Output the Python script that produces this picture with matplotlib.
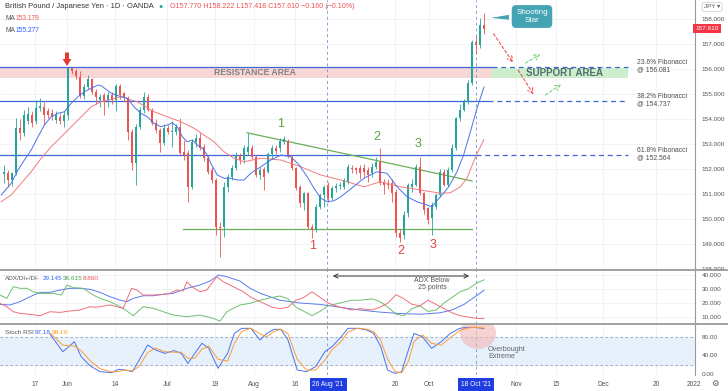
import matplotlib
matplotlib.use("Agg")
import matplotlib.pyplot as plt
import matplotlib.patches as mpatches
import numpy as np
import pandas as pd

plt.rcParams["font.family"] = ["Liberation Sans", "DejaVu Sans"]

# daily candles, GBP/JPY (OANDA), 5 May - 20 Oct 2021
dates = pd.bdate_range("2021-05-05", "2021-10-20")
opens = [151.80, 151.85, 151.56, 151.83, 153.63, 153.45, 153.90, 154.16, 153.90, 154.43,
         154.50, 154.30, 154.25, 153.96, 154.10, 153.93, 154.16, 156.03, 155.93, 155.69,
         154.92, 155.27, 155.59, 155.09, 154.76, 154.96, 154.76, 154.96, 154.76, 155.32,
         155.03, 154.83, 153.49, 152.23, 153.69, 154.36, 154.89, 154.36, 153.83, 153.56,
         153.03, 153.63, 153.50, 153.49, 153.69, 152.70, 152.63, 151.29, 153.09, 153.23,
         152.89, 152.43, 151.96, 151.56, 149.69, 149.69, 151.29, 151.69, 152.03, 152.56,
         152.36, 152.70, 152.84, 152.48, 151.76, 152.00, 151.90, 152.60, 152.85, 152.84,
         153.10, 153.13, 152.49, 152.03, 151.29, 150.63, 151.03, 149.69, 149.59, 150.49,
         150.96, 151.36, 150.83, 151.23, 151.33, 151.29, 151.49, 152.05, 152.06, 152.03,
         152.03, 151.96, 151.83, 152.09, 152.29, 151.49, 151.43, 151.43, 151.09, 149.43,
         149.36, 150.23, 151.29, 151.36, 152.09, 151.03, 150.43, 150.03, 150.49, 150.96,
         151.89, 151.36, 151.96, 152.83, 154.03, 154.36, 154.69, 155.43, 157.09, 156.96,
         157.77]
highs = [152.16, 151.95, 151.90, 154.03, 154.00, 154.36, 154.50, 154.30, 154.76, 154.83,
         154.70, 154.45, 154.40, 154.30, 154.25, 154.30, 156.10, 156.10, 156.00, 155.90,
         155.40, 155.76, 155.65, 155.20, 155.00, 155.05, 155.10, 155.10, 155.40, 155.40,
         155.10, 154.90, 153.60, 153.80, 154.50, 155.09, 155.00, 154.45, 154.00, 153.65,
         153.80, 153.75, 153.90, 153.80, 154.03, 153.16, 152.75, 153.20, 153.40, 153.43,
         153.00, 152.55, 152.10, 151.65, 149.90, 151.50, 151.80, 152.15, 152.70, 152.65,
         152.95, 153.45, 152.95, 152.55, 152.10, 152.10, 152.70, 152.95, 152.95, 153.25,
         153.30, 153.20, 152.55, 152.10, 151.35, 151.10, 151.10, 149.80, 150.60, 151.05,
         151.36, 151.50, 151.30, 151.45, 151.50, 151.65, 152.20, 152.15, 152.10, 152.15,
         152.20, 152.10, 152.25, 152.49, 152.83, 151.60, 151.60, 151.60, 151.20, 149.60,
         150.30, 151.45, 151.60, 152.20, 152.49, 151.10, 150.50, 150.70, 151.05, 152.00,
         152.00, 152.10, 153.00, 154.10, 154.60, 154.80, 155.55, 157.15, 157.30, 158.03,
         158.22]
lows = [151.43, 151.29, 151.30, 151.75, 153.15, 153.30, 153.80, 153.70, 153.80, 154.30,
        153.76, 154.05, 153.95, 153.85, 153.80, 153.70, 153.95, 155.80, 155.60, 154.85,
        154.80, 155.20, 155.00, 154.60, 154.50, 154.16, 154.50, 154.60, 154.30, 154.80,
        154.70, 153.16, 151.96, 151.36, 153.60, 154.25, 154.30, 153.75, 153.45, 152.70,
        152.95, 153.40, 152.90, 153.35, 152.55, 152.36, 150.69, 151.20, 152.90, 152.75,
        152.30, 151.80, 151.45, 149.36, 148.49, 149.30, 151.10, 151.55, 151.95, 152.20,
        152.25, 152.55, 152.40, 151.70, 151.60, 151.16, 151.85, 152.40, 152.60, 152.70,
        153.00, 152.45, 151.95, 151.15, 150.50, 150.36, 149.60, 149.23, 149.50, 150.40,
        150.50, 150.70, 150.75, 151.10, 151.20, 151.20, 151.40, 151.85, 151.80, 151.60,
        151.70, 151.50, 151.70, 152.00, 151.35, 151.00, 151.20, 150.70, 149.30, 149.09,
        149.20, 150.10, 151.10, 151.30, 150.95, 150.20, 149.80, 149.36, 150.40, 150.90,
        151.30, 151.30, 151.90, 152.75, 153.90, 154.30, 154.60, 155.35, 156.60, 156.85,
        157.42]
closes = [151.88, 151.56, 151.83, 153.63, 153.45, 154.16, 154.20, 153.83, 154.43, 154.52,
          154.16, 154.16, 154.10, 154.16, 153.93, 154.16, 156.03, 155.90, 155.72, 154.92,
          155.27, 155.59, 155.09, 154.89, 154.89, 154.69, 154.96, 154.76, 155.32, 154.96,
          154.83, 153.49, 152.23, 153.69, 154.36, 154.89, 154.36, 153.83, 153.56, 153.03,
          153.63, 153.49, 153.52, 153.69, 152.63, 152.56, 151.29, 153.09, 153.23, 152.83,
          152.43, 151.89, 151.56, 149.69, 149.63, 151.29, 151.69, 152.03, 152.56, 152.36,
          152.83, 152.90, 152.48, 151.76, 151.95, 151.70, 152.60, 152.84, 152.72, 153.12,
          153.20, 152.56, 152.03, 151.23, 150.63, 151.03, 149.69, 149.60, 150.49, 150.96,
          151.29, 150.83, 151.23, 151.33, 151.36, 151.56, 152.09, 151.99, 151.96, 151.83,
          151.89, 151.76, 152.09, 152.29, 151.43, 151.36, 151.36, 151.03, 149.43, 149.23,
          150.16, 151.36, 151.40, 152.09, 151.03, 150.36, 149.96, 150.56, 150.96, 151.89,
          151.36, 151.96, 152.83, 154.03, 154.36, 154.69, 155.43, 157.09, 156.96, 157.77,
          157.61]

# moving averages (bar number, price)
ma_fast_x = [0.3, 2.8, 4.5, 6.1, 7.8, 9.5, 11.1, 12.8, 14.5, 16.1, 17.8, 19.5, 21.1, 22.8, 24.5,
             25.3, 27.8, 30.3, 31.8, 33.5, 35.2, 36.8, 38.5, 40.2, 41.8, 43.1, 44.3, 45.6, 46.8,
             48.1, 49.3, 50.6, 51.8, 52.7, 54.3, 56, 57.7, 59.3, 61, 62.7, 65.2, 67.7, 70.2,
             72.7, 74.8, 76.8, 78.5, 80.2, 81.8, 83.5, 85.2, 86.8, 88.9, 91, 94.2, 96.75, 99.25,
             101.75, 104.25, 106.75, 108, 110.1, 112.2, 114.25, 115.9, 117.6, 119.25, 121]
ma_fast = [150.96, 151.43, 151.96, 152.36, 152.76, 153.29, 153.76, 154.09, 154.23, 154.29,
           154.63, 154.89, 155.09, 155.23, 155.36, 155.33, 155.03, 154.89, 154.83, 154.49,
           154.23, 154.09, 153.83, 153.69, 153.76, 153.85, 153.69, 153.29, 153.09, 153.16,
           152.96, 152.83, 152.56, 152.23, 151.76, 151.63, 151.63, 151.56, 151.56, 151.83,
           152.09, 152.36, 152.56, 152.49, 152.16, 151.69, 151.23, 150.83, 150.69, 150.73,
           150.89, 151.09, 151.36, 151.63, 151.89, 151.83, 151.29, 150.89, 150.69, 150.56,
           150.49, 150.89, 151.29, 151.89, 152.56, 153.49, 154.43, 155.28]
ma_slow_x = [0.3, 2.8, 5.3, 7.8, 10.3, 12.8, 15.3, 17.8, 20.3, 22.8, 25.3, 27.8, 30.3, 34.3,
             38.5, 41.8, 45.2, 48.5, 51, 53.5, 56, 58.5, 61, 65.2, 70.2, 75.2, 80.2, 85.2, 91,
             95.1, 100.1, 105.1, 110.1, 112.6, 115.1, 116.75, 118.4, 119.7, 121]
ma_slow = [150.69, 150.96, 151.43, 151.89, 152.43, 152.89, 153.29, 153.69, 154.09, 154.49,
           154.69, 154.79, 154.89, 154.69, 154.29, 154.09, 153.89, 153.63, 153.36, 153.09,
           152.69, 152.43, 152.29, 152.43, 152.36, 152.09, 151.76, 151.56, 151.29, 151.49,
           151.29, 151.16, 151.03, 151.05, 151.29, 151.63, 152.29, 152.76, 153.18]

# ADX / DI+ / DI-
adx_x = [0, 2.5, 5, 7.5, 10, 12.5, 15, 17.5, 20, 22.5, 25, 27.5, 30, 31.7, 33.3, 35.8, 38.3,
         40.8, 43.3, 46.7, 50, 52.5, 54.6, 56.7, 60, 62.5, 65, 70, 75, 80, 85, 90, 95, 100,
         105, 110, 113, 116, 119, 121]
adx_v = [19, 18.6, 21, 24.5, 27.6, 27.6, 29.3, 30.5, 30.5, 29.8, 27.6, 24.5, 22.1, 21, 23.3,
         25.2, 25.2, 26.2, 26.9, 30.5, 32.9, 35.7, 40, 38.8, 35.7, 30.5, 27, 22, 20, 19, 17,
         15, 13.5, 12.5, 12, 13, 15, 19, 25, 29.145]
dip_x = [0, 1.7, 3.3, 5, 6.7, 8.3, 10, 11.7, 13.3, 15.4, 16.7, 18.3, 20.8, 23.3, 25, 27.5,
         29.2, 30.8, 33.3, 35.8, 38.3, 40.8, 43.3, 46.7, 50, 53.3, 55, 56.7, 60, 62.5, 65, 68,
         70, 72, 74, 76, 78, 80, 82, 85, 88, 90, 93, 95, 97, 99, 101, 103, 105, 107, 109, 111,
         113, 115, 117, 119, 121]
dip_v = [25.7, 23.3, 31.7, 30.5, 30.5, 28.1, 26.9, 26.9, 26.9, 25.7, 32.9, 31, 30.5, 25.7,
         23.3, 21, 18.6, 16.2, 10.9, 17.4, 16.2, 13.8, 11.4, 10.2, 11.4, 9, 7.1, 13.8, 18.6,
         19.8, 22, 24, 25, 23, 17, 14, 11, 14, 18, 20, 22, 22, 23, 21, 17, 12, 11, 16, 18, 14,
         15, 20, 24, 28, 30, 34, 36.615]
dim_x = [0, 1.7, 3.3, 5, 7.5, 10, 12.5, 15, 17.5, 20, 22.5, 23.75, 25, 27.5, 29.2, 30.8, 32.9,
         34.2, 35.8, 38.3, 40.8, 42.5, 44.2, 45.8, 46.7, 47.9, 50, 51.7, 54.2, 55.8, 58.3, 60.8,
         62.5, 65, 68, 70, 72, 74, 76, 78, 80, 82, 85, 88, 90, 93, 95, 97, 99, 101, 103, 105,
         107, 109, 111, 113, 115, 117, 119, 121]
dim_v = [19.8, 17.4, 13.8, 12.6, 11.9, 10.9, 13.8, 13.3, 14.3, 15, 17.4, 16.9, 17.4, 18.6,
         17.4, 16.2, 30.5, 29.3, 25.7, 25.7, 26.2, 26.9, 29.3, 28.6, 35.2, 31.7, 28.1, 29.3,
         38.8, 35.2, 31.7, 28.1, 24.5, 21, 17, 16, 17, 22, 24, 28, 24, 20, 17, 15, 16, 15, 17,
         20, 26, 23, 19, 18, 22, 19, 16, 13, 11, 10, 9, 8.86]

# Stoch RSI %K / %D
st_x = [12.5, 15.7, 18.6, 20.3, 22.6, 25, 27.9, 29.6, 31.3, 33.1, 34.8, 36.9, 38.9, 41.2, 43.5,
        45.3, 47, 48.7, 50.5, 52.2, 54.5, 56.9, 58.6, 60.4, 62.7, 65, 66.7, 68.5, 70.2, 72,
        74.3, 76.6, 78.9, 81.2, 83, 85.3, 87, 89.4, 91.7, 93.4, 95.2, 96.9, 98.7, 100.4, 102.1,
        103.5, 105.6, 107.9, 110.3, 112.6, 114.9, 117.2, 119, 121]
st_k = [85.7, 48, 69.4, 37.5, 17.6, 5.6, 3.5, 10.6, 9.1, 5.6, 30.4, 62.3, 51.7, 44.6, 50.3,
        44.6, 23.2, 44.6, 66, 55.2, 12.8, 44.6, 87, 97.8, 97.8, 73, 87, 95.7, 95.7, 73, 9.1,
        5.6, 16.2, 48, 58.6, 80, 97.8, 97.8, 94.3, 87, 58.6, 9.1, 2, 5.6, 51.7, 87, 80, 55.2,
        69.4, 87, 97.8, 100, 99.7, 97.18]
st_d = [88, 62, 60, 50, 28, 12, 5, 6, 9, 7, 17, 46, 56, 48, 47, 47, 34, 34, 54, 60, 32, 28,
        66, 91, 98, 86, 80, 91, 96, 86, 32, 9, 9, 30, 52, 70, 90, 98, 96, 91, 72, 32, 6, 3,
        28, 70, 84, 66, 62, 78, 93, 99, 100, 98.19]

fib_levels = [156.081, 154.737, 152.564]
fib_names = ["23.6% Fibonacci", "38.2% Fibonacci", "61.8% Fibonacci"]

tick_px = [35, 67, 115, 167, 215, 254, 295, 395, 429, 516, 556, 603, 656]
tick_lab = ["17", "Jun", "14", "Jul", "19", "Aug", "16", "20", "Oct", "Nov", "15", "Dec", "20"]

W, H = 728, 391
fig = plt.figure(figsize=(W / 100, H / 100), dpi=100)
fig.patch.set_facecolor("white")


def px_axes(x0, y0, x1, y1):
    return fig.add_axes([x0 / W, 1 - y1 / H, (x1 - x0) / W, (y1 - y0) / H])


ax = px_axes(0, 0, 695, 270)
ax2 = px_axes(0, 270, 695, 324)
ax3 = px_axes(0, 324, 695, 375)

xmax = 695 / 4
grid_c = "#eef1f6"
for a in (ax, ax2, ax3):
    a.set_xlim(0, xmax)
    a.set_facecolor("white")
    for s in ("top", "left", "bottom"):
        a.spines[s].set_visible(False)
    a.spines["right"].set_color("#9a9a9a")
    a.spines["right"].set_linewidth(0.8)
    a.set_xticks([])
    for p in tick_px:
        a.axvline(p / 4, color=grid_c, lw=0.6, zorder=0)
    a.yaxis.tick_right()
    a.tick_params(axis="y", length=0, pad=5, labelsize=4.6, labelcolor="#555555")

# ---------------- main panel
ax.set_ylim(147.96, 158.76)
ax.set_yticks(range(148, 159))
ax.set_yticklabels(["%.3f" % v for v in range(148, 159)])
for v in range(148, 159):
    ax.axhline(v, color=grid_c, lw=0.6, zorder=0)

xb = np.arange(1, len(dates) + 1)
o = np.array(opens); h = np.array(highs); l = np.array(lows); c = np.array(closes)
up = c >= o
col = np.where(up, "#26a69a", "#ef5350")
ax.vlines(xb, l, h, colors=col, lw=0.6, zorder=3)
body = c - o
body = np.where(np.abs(body) < 0.04, 0.04, body)
ax.bar(xb, body, bottom=o, width=0.66, color=col, zorder=4, linewidth=0)

ax.plot(ma_slow_x, ma_slow, color="#f27b80", lw=0.7, zorder=5)
ax.plot(ma_fast_x, ma_fast, color="#4a73e8", lw=0.7, zorder=5)

# resistance / support zones
ax.add_patch(mpatches.Rectangle((0, 155.64), 123, 156.081 - 155.64, fc="#f9d6d6", ec="none", zorder=1))
ax.add_patch(mpatches.Rectangle((123, 155.64), 34, 156.04 - 155.64, fc="#cdeecd", ec="none", zorder=1))
ax.text(255 / 4, 155.85, "RESISTANCE AREA", ha="center", va="center", fontsize=6.2,
        color="#808080", fontweight="bold", zorder=2)
ax.text(565 / 4, 155.83, "SUPPORT AREA", ha="center", va="center", fontsize=7,
        color="#4f6f6c", fontweight="bold", zorder=2)

# fibonacci levels
solid_end = [123, 122, 119]
for lev, name, se in zip(fib_levels, fib_names, solid_end):
    ax.plot([0, se], [lev, lev], color="#3d66d9", lw=0.9, zorder=2)
    ax.plot([se, 157], [lev, lev], color="#3d66d9", lw=0.9, ls=(0, (4, 3)), zorder=2)
    ax.text(637 / 4, lev + 0.02, name + "\n@ %.3f" % lev, ha="left", va="center",
            fontsize=4.9, color="#4d4d4d", linespacing=1.05)

# triple-bottom structure
ax.plot([45.8, 118], [149.6, 149.6], color="#6aaf55", lw=0.9, zorder=2)
ax.plot([61.75, 118], [153.45, 151.52], color="#6aaf55", lw=0.9, zorder=2)
for xx, yy, t in [(281, 130, "1"), (377, 143, "2"), (418, 150, "3")]:
    ax.text(xx / 4, 158.76 - yy / 25, t, ha="center", va="bottom", fontsize=9,
            color="#5aa33f", zorder=6)
for xx, yy, t in [(313, 240, "1"), (401, 245, "2"), (433, 239, "3")]:
    ax.text(xx / 4, 158.76 - yy / 25, t, ha="center", va="top", fontsize=9,
            color="#e0443f", zorder=6)

# vertical date markers
for a in (ax, ax2, ax3):
    a.axvline(327 / 4, color="#8aa0d6", lw=0.7, ls=(0, (3, 3)), zorder=2)
    a.axvline(476 / 4, color="#8aa0d6", lw=0.7, ls=(0, (3, 3)), zorder=2)

# red arrow over the May top
arrow_pts = [(16.25, 156.66), (17.25, 156.66), (17.25, 156.40), (17.85, 156.40),
             (16.75, 156.12), (15.65, 156.40), (16.25, 156.40)]
ax.add_patch(mpatches.Polygon(arrow_pts, closed=True, fc="#e53935", ec="none", zorder=6))

# shooting star callout
ax.annotate("Shooting\nStar", xy=(122, 158.04), xytext=(133, 158.1), ha="center", va="center",
            fontsize=5.8, color="white", linespacing=1.0,
            bbox=dict(boxstyle="round,pad=0.55", fc="#45a4b3", ec="none"),
            arrowprops=dict(arrowstyle="wedge,tail_width=0.6", fc="#45a4b3", ec="none"),
            zorder=7)

# projected paths
proj = [((123, 157.5), (128.6, 156.18), "#ef5350"),
        ((129.2, 156.05), (133.7, 154.9), "#ef5350"),
        ((130.8, 156.18), (135.6, 156.64), "#7ccf7c"),
        ((135.8, 154.9), (140.8, 155.44), "#7ccf7c")]
for (x0, y0), (x1, y1), cc in proj:
    ax.annotate("", xy=(x1, y1), xytext=(x0, y0),
                arrowprops=dict(arrowstyle="->,head_length=0.35,head_width=0.2", color=cc,
                                lw=0.8, ls=(0, (2.5, 2))), zorder=6)

# last price tag
ax.text(1.0, 157.61, "157.610", transform=ax.get_yaxis_transform(), ha="left", va="center",
        fontsize=4.6, color="white",
        bbox=dict(boxstyle="square,pad=0.35", fc="#f23645", ec="none"), zorder=8)

# ---------------- ADX panel
ax2.set_ylim(5.0, 43.6)
ax2.set_yticks([10, 20, 30, 40])
ax2.set_yticklabels(["10.000", "20.000", "30.000", "40.000"])
for v in (10, 20, 30, 40):
    ax2.axhline(v, color=grid_c, lw=0.6, zorder=0)
ax2.plot(adx_x, adx_v, color="#5b7bf0", lw=0.7)
ax2.plot(dip_x, dip_v, color="#6fbf6f", lw=0.7)
ax2.plot(dim_x, dim_v, color="#f0707a", lw=0.7)
ax2.annotate("", xy=(118, 39.3), xytext=(82.5, 39.3),
             arrowprops=dict(arrowstyle="<->,head_length=0.3,head_width=0.15", color="#333333", lw=0.7))
ax2.text(108, 33.5, "ADX Below\n25 points", ha="center", va="center", fontsize=5,
         color="#555555", linespacing=1.0)

# ---------------- Stoch RSI panel
ax3.set_ylim(-1.5, 107)
ax3.set_yticks([0, 40, 80])
ax3.set_yticklabels(["0.00", "40.00", "80.00"])
ax3.axhspan(20, 80, color="#e6f1fc", zorder=0)
ax3.axhline(80, color="#9aa4b0", lw=0.6, ls=(0, (3, 3)), zorder=1)
ax3.axhline(20, color="#9aa4b0", lw=0.6, ls=(0, (3, 3)), zorder=1)
ax3.plot(st_x, st_k, color="#4a73e8", lw=0.7, zorder=3)
ax3.plot(st_x, st_d, color="#ff9a3c", lw=0.7, zorder=3)
ax3.add_patch(mpatches.Ellipse((478 / 4, 88), 36 / 4, 32 / 0.47, fc="#f3b5b5", ec="none",
                               alpha=0.6, zorder=2))
ax3.text(488 / 4, 45, "Overbought\nExtreme", ha="left", va="center", fontsize=5.2,
         color="#666666", linespacing=1.05)

# panel separators
for yy in (270, 324):
    fig.add_artist(plt.Line2D([0, 1], [1 - yy / H, 1 - yy / H], color="#9a9a9a", lw=1.3))

# ---------------- header / legends
def ftxt(x, y, s, **kw):
    fig.text(x / W, 1 - y / H, s, va="center", ha="left", **kw)


ftxt(5, 7, "British Pound / Japanese Yen · 1D · OANDA", fontsize=5.4, color="#333333")
ftxt(158, 7, "●", fontsize=5, color="#26a69a")
ftxt(170, 7, "O157.770 H158.222 L157.418 C157.610 −0.160 (−0.10%)", fontsize=5.1, color="#ef5350")
ftxt(5, 19, "MA", fontsize=4.8, color="#555555")
ftxt(16, 19, "153.179", fontsize=4.8, color="#ef5350")
ftxt(5, 31, "MA", fontsize=4.8, color="#555555")
ftxt(16, 31, "155.277", fontsize=4.8, color="#2962ff")
ftxt(5, 279, "ADX/DI+/DI-", fontsize=4.6, color="#555555")
ftxt(43, 279, "29.145", fontsize=4.6, color="#2962ff")
ftxt(63, 279, "36.615", fontsize=4.6, color="#43a047")
ftxt(83, 279, "8.860", fontsize=4.6, color="#ef5350")
ftxt(5, 333, "Stoch RSI", fontsize=4.6, color="#555555")
ftxt(35, 333, "97.18", fontsize=4.6, color="#2962ff")
ftxt(52, 333, "98.19", fontsize=4.6, color="#ff9800")
ftxt(704, 7, "JPY ▾", fontsize=4.5, color="#555555",
     bbox=dict(boxstyle="round,pad=0.3", fc="white", ec="#cccccc", lw=0.5))

# time axis
for p, t in zip(tick_px, tick_lab):
    fig.text(p / W, 1 - 384 / H, t, ha="center", va="center", fontsize=4.8, color="#555555")
fig.text(694 / W, 1 - 384 / H, "2022", ha="center", va="center", fontsize=4.8, color="#555555")
for p, t in [(328, "26 Aug '21"), (476, "18 Oct '21")]:
    fig.text(p / W, 1 - 384 / H, t, ha="center", va="center", fontsize=4.8, color="white",
             bbox=dict(boxstyle="square,pad=0.45", fc="#1f3de0", ec="none"))
fig.text(715 / W, 1 - 384 / H, "⚙", ha="center", va="center", fontsize=6, color="#555555")

fig.savefig("out.png", dpi=100)
